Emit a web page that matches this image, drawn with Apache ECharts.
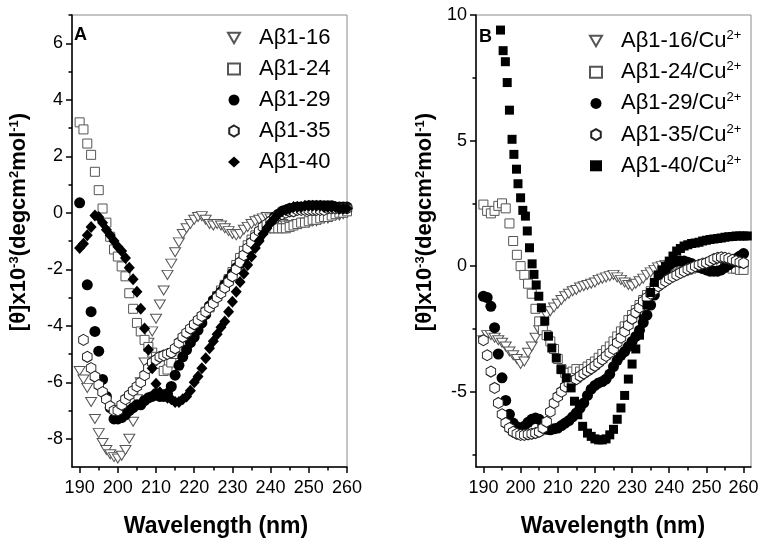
<!DOCTYPE html>
<html><head><meta charset="utf-8">
<script src="https://cdn.jsdelivr.net/npm/echarts@6/dist/echarts.min.js"></script>
<style>html,body{margin:0;padding:0;background:#fff}#c{width:765px;height:545px}</style>
</head><body><div id="c"></div>
<script>
// ---------- wavelengths (nm) ----------
const wl = [190,191,192,193,194,195,196,197,198,199,
  200,201,202,203,204,205,206,207,208,209,
  210,211,212,213,214,215,216,217,218,219,
  220,221,222,223,224,225,226,227,228,229,
  230,231,232,233,234,235,236,237,238,239,
  240,241,242,243,244,245,246,247,248,249,
  250,251,252,253,254,255,256,257,258,259,260];

// ---------- Panel A ----------
const a16 = [-5.6,-5.9,-6.2,-6.7,-7.3,-7.8,-8.15,-8.4,-8.55,-8.65,
  -8.7,-8.6,-8.4,-8.0,-7.4,-6.6,-6.0,-5.3,-4.6,-4.2,
  -3.75,-3.25,-2.75,-2.2,-1.8,-1.4,-1.05,-0.75,-0.55,-0.4,
  -0.25,-0.15,-0.12,-0.25,-0.4,-0.45,-0.4,-0.45,-0.55,-0.65,
  -0.75,-0.8,-0.75,-0.6,-0.5,-0.4,-0.3,-0.25,-0.2,-0.15,
  -0.2,-0.3,-0.35,-0.4,-0.45,-0.45,-0.45,-0.4,-0.4,-0.35,
  -0.35,-0.3,-0.3,-0.25,-0.2,-0.2,-0.15,-0.1,-0.1,-0.05,0.0];
const a24 = [3.2,2.95,2.45,2.05,1.45,0.8,0.15,-0.35,-0.85,-1.3,
  -1.55,-1.9,-2.25,-2.85,-3.4,-3.9,-4.2,-4.5,-4.75,-4.95,
  -5.1,-5.35,-5.6,-5.55,-5.3,-5.0,-4.8,-4.6,-4.4,-4.2,
  -4.0,-3.85,-3.7,-3.5,-3.35,-3.15,-2.95,-2.75,-2.55,-2.35,
  -2.1,-1.85,-1.6,-1.35,-1.15,-0.95,-0.8,-0.7,-0.6,-0.55,
  -0.55,-0.55,-0.55,-0.55,-0.55,-0.5,-0.45,-0.4,-0.35,-0.35,
  -0.3,-0.25,-0.25,-0.2,-0.15,-0.15,-0.1,-0.05,0.0,0.0,0.05];
const a29 = [0.35,null,-2.55,-3.5,-4.2,-4.9,-5.9,-6.5,-6.9,-7.3,
  -7.3,-7.25,-7.15,-7.0,-6.9,-6.8,-6.8,-6.65,-6.55,-6.5,
  -6.4,-6.5,-6.5,-6.4,-6.15,-5.75,-5.4,-5.1,-4.85,-4.6,
  -4.4,-4.15,-3.9,-3.6,-3.3,-3.1,-2.95,-2.8,-2.55,-2.35,
  -2.15,-1.95,-1.8,-1.6,-1.45,-1.25,-1.05,-0.85,-0.65,-0.45,
  -0.3,-0.15,-0.05,0.05,0.1,0.15,0.15,0.2,0.2,0.2,
  0.25,0.25,0.25,0.25,0.25,0.25,0.25,0.2,0.2,0.2,0.2];
const a35 = [null,-4.5,-5.1,-5.5,-5.8,-6.1,-6.35,-6.6,-6.85,-7.0,
  -7.0,-6.8,-6.6,-6.45,-6.3,-6.15,-6.0,-5.75,-5.5,-5.3,
  -5.2,-5.1,-5.05,-5.0,-4.95,-4.8,-4.6,-4.4,-4.25,-4.1,
  -3.95,-3.8,-3.65,-3.5,-3.35,-3.2,-3.0,-2.85,-2.65,-2.45,
  -2.25,-2.0,-1.75,-1.5,-1.25,-1.05,-0.85,-0.65,-0.5,-0.4,
  -0.3,-0.2,-0.1,-0.05,0.0,0.05,0.05,0.1,0.1,0.1,
  0.1,0.1,0.1,0.1,0.1,0.15,0.15,0.15,0.15,0.15,0.15];
const a40 = [-1.25,-1.1,-0.8,-0.5,-0.1,-0.15,-0.35,-0.6,-0.8,-1.0,
  -1.2,-1.35,-1.6,-1.95,-2.35,-2.8,-3.4,-4.1,-4.85,-5.5,
  -6.05,-6.35,-6.45,-6.55,-6.6,-6.7,-6.7,-6.6,-6.5,-6.3,
  -6.0,-5.8,-5.5,-5.15,-4.8,-4.55,-4.3,-4.05,-3.85,-3.5,
  -3.15,-2.8,-2.45,-2.15,-1.85,-1.55,-1.25,-1.0,-0.75,-0.55,
  -0.35,-0.2,-0.05,0.05,0.1,0.15,0.2,0.2,0.2,0.25,
  0.25,0.25,0.25,0.25,0.2,0.2,0.2,0.2,0.15,0.15,0.15];

// ---------- Panel B ----------
const b16 = [-2.95,-2.75,-2.75,-2.85,-2.95,-3.05,-3.2,-3.4,-3.55,-3.7,
  -3.9,-3.8,-3.45,-3.2,-2.85,-2.55,-2.25,-1.95,-1.8,-1.65,
  -1.5,-1.35,-1.2,-1.1,-1.0,-0.95,-0.85,-0.8,-0.75,-0.7,
  -0.65,-0.55,-0.5,-0.45,-0.4,-0.35,-0.45,-0.55,-0.65,-0.75,
  -0.8,-0.7,-0.6,-0.5,-0.35,-0.25,-0.15,-0.05,0.0,0.05,
  0.05,0.05,0.1,null,null,null,null,null,null,null,
  null,null,null,null,null,null,null,null,null,null,null];
const b24 = [2.45,2.2,2.1,2.2,2.4,2.5,2.3,1.7,1.0,0.45,
  0.0,-0.35,-0.7,-1.1,-1.7,-2.2,-2.55,-2.75,-3.0,-3.3,
  -3.7,-4.1,-4.25,-4.25,-4.2,-4.1,-4.2,-4.1,-4.0,-3.9,
  -3.8,-3.65,-3.5,-3.35,-3.2,-3.0,-2.8,-2.6,-2.4,-2.15,
  -1.95,-1.75,-1.55,-1.35,-1.15,-1.0,-0.85,-0.7,-0.6,-0.5,
  -0.4,-0.35,-0.3,-0.25,-0.2,-0.15,-0.1,-0.05,0.0,0.05,
  0.1,0.1,0.1,0.05,0.0,0.0,-0.05,-0.1,-0.1,-0.15,-0.15];
const b29 = [-1.2,-1.25,-1.6,-2.45,-3.5,-4.45,-5.35,-5.9,-6.25,-6.4,
  -6.45,-6.38,-6.22,-6.1,-6.05,-6.1,-6.35,-6.5,-6.52,-6.48,
  -6.45,-6.35,-6.25,-6.15,-6.0,-5.85,-5.65,-5.45,-5.15,-4.9,
  -4.75,-4.65,-4.6,-4.5,-4.3,-4.0,-3.75,-3.55,-3.4,-3.2,
  -3.0,-2.8,-2.55,-2.25,-1.95,-1.55,-1.15,-0.8,-0.45,-0.15,
  0.05,0.15,0.2,0.2,0.2,0.15,0.1,0.0,-0.05,-0.1,
  -0.15,-0.2,-0.2,-0.2,-0.15,-0.05,0.05,0.15,0.3,0.4,0.5];
const b35 = [-2.95,-3.55,-4.2,-4.85,-5.45,-5.9,-6.25,-6.45,-6.6,-6.68,
  -6.72,-6.72,-6.7,-6.68,-6.65,-6.6,-6.45,-6.2,-5.8,-5.45,
  -5.2,-5.0,-4.8,-4.65,-4.58,-4.5,-4.38,-4.28,-4.18,-4.08,
  -3.97,-3.85,-3.72,-3.58,-3.45,-3.3,-3.05,-2.85,-2.6,-2.35,
  -2.1,-1.85,-1.65,-1.4,-1.25,-1.1,-0.95,-0.8,-0.7,-0.6,
  -0.5,-0.42,-0.35,-0.27,-0.2,-0.12,-0.07,0.0,0.05,0.1,
  0.13,0.2,0.28,0.33,0.35,0.33,0.3,0.25,0.2,0.15,0.12];
const wl40 = [194.6,195.3,195.9,196.4,197,197.7,198.2,198.9,199.3,200,
  200.6,201.3,201.8,202.4,203.1,203.6,204.2,204.9,205.6,206.5,
  207.5,208.4,209.6,210.9,212.3,213.6,214.5,215.4,216.7,218,
  219,220,221,222,223,224,225,226,227,228,
  229,230,231,232,233,234,235,236,237,238,
  239,240,241,242,243,244,245,246,247,248,
  249,250,251,252,253,254,255,256,257,258,259,260,261];
const b40 = [9.4,8.58,8.14,7.31,6.21,5.05,4.45,3.86,3.28,2.72,
  2.22,1.99,1.4,0.73,0.09,-0.33,-0.75,-1.2,-1.66,-2.19,
  -2.79,-3.26,-3.66,-4.12,-4.45,-4.85,-5.38,-5.92,-6.38,-6.65,
  -6.78,-6.88,-6.92,-6.92,-6.88,-6.72,-6.5,-6.1,-5.65,-5.15,
  -4.5,-3.9,-3.3,-2.75,-2.1,-1.55,-1.05,-0.65,-0.35,-0.15,
  0.0,0.2,0.4,0.6,0.7,0.8,0.85,0.9,0.92,0.95,
  1.0,1.03,1.06,1.08,1.1,1.12,1.15,1.17,1.18,1.2,1.2,1.2,1.2];

// ---------- ticks ----------
const xMajor = [190,200,210,220,230,240,250,260];
const xMinor = [195,205,215,225,235,245,255];
const yMajorA = [-8,-6,-4,-2,0,2,4,6];
const yMinorA = [-7,-5,-3,-1,1,3,5,7];
const yMajorB = [-5,0,5,10];
const yMinorB = [-7.5,-2.5,2.5,7.5];

const namesA = ['Aβ1-16','Aβ1-24','Aβ1-29','Aβ1-35','Aβ1-40'];
const namesB = ['Aβ1-16/Cu2+','Aβ1-24/Cu2+','Aβ1-29/Cu2+','Aβ1-35/Cu2+','Aβ1-40/Cu2+'];

const FONT = '"Liberation Sans", Arial, sans-serif';
function pairs(xs, ys){ const out=[]; for(let i=0;i<ys.length;i++){ if(ys[i]!=null) out.push([xs[i], ys[i]]); } return out; }

const TRI = 'path://M0,0 L10,0 L5,8.66 Z';
const HEX = 'path://M0,-1 L0.866,-0.5 L0.866,0.5 L0,1 L-0.866,0.5 L-0.866,-0.5 Z';
const styles = [
  {symbol: TRI, symbolSize:[11,9], itemStyle:{color:'#fff', borderColor:'#555', borderWidth:1, opacity:1}},
  {symbol: 'rect', symbolSize:9, itemStyle:{color:'#fff', borderColor:'#555', borderWidth:1, opacity:1}},
  {symbol: 'circle', symbolSize:11, itemStyle:{color:'#000', borderColor:'#000', borderWidth:0, opacity:1}},
  {symbol: HEX, symbolSize:[9.5,11], itemStyle:{color:'#fff', borderColor:'#222', borderWidth:1, opacity:1}},
  {symbol: 'diamond', symbolSize:[11,12], itemStyle:{color:'#000', borderColor:'#000', borderWidth:0, opacity:1}}
];
const stylesB = styles.slice(0,4).concat([{symbol:'rect', symbolSize:9, itemStyle:{color:'#000', borderColor:'#000', borderWidth:0, opacity:1}}]);

function xAxes(grid, max){
  return [
    {gridIndex:grid, type:'value', min:188, max:max, position:'bottom',
     axisLine:{show:true, onZero:false, lineStyle:{color:'#000', width:1.5}},
     axisTick:{show:true, customValues:xMajor, length:6, lineStyle:{color:'#000', width:1.5}},
     axisLabel:{show:true, customValues:xMajor, fontSize:18, color:'#000', fontFamily:FONT, margin:12},
     splitLine:{show:false}},
    {gridIndex:grid, type:'value', min:188, max:max, position:'bottom',
     axisLine:{show:false, onZero:false},
     axisTick:{show:true, customValues:xMinor, length:3.5, lineStyle:{color:'#000', width:1.5}},
     axisLabel:{show:false}, splitLine:{show:false}}
  ];
}
function yAxes(grid, min, max, major, minor){
  return [
    {gridIndex:grid, type:'value', min:min, max:max, position:'left',
     axisLine:{show:true, onZero:false, lineStyle:{color:'#000', width:1.5}},
     axisTick:{show:true, customValues:major, length:6, lineStyle:{color:'#000', width:1.5}},
     axisLabel:{show:true, customValues:major, fontSize:18, color:'#000', fontFamily:FONT, margin:9},
     splitLine:{show:false}},
    {gridIndex:grid, type:'value', min:min, max:max, position:'left',
     axisLine:{show:false, onZero:false},
     axisTick:{show:true, customValues:minor, length:3.5, lineStyle:{color:'#000', width:1.5}},
     axisLabel:{show:false}, splitLine:{show:false}}
  ];
}

const seriesA = [a16,a24,a29,a35,a40].map((ys,i)=>Object.assign({
  type:'scatter', name:namesA[i], xAxisIndex:0, yAxisIndex:0, data:pairs(wl, ys), animation:false
}, styles[i]));
const seriesB = [b16,b24,b29,b35].map((ys,i)=>Object.assign({
  type:'scatter', name:namesB[i], xAxisIndex:2, yAxisIndex:2, data:pairs(wl, ys), animation:false
}, stylesB[i]));
seriesB.push(Object.assign({type:'scatter', name:namesB[4], xAxisIndex:2, yAxisIndex:2, data:pairs(wl40, b40), animation:false}, stylesB[4]));

const yTitle = '[θ]x10{s|-3}(degcm{s|2}mol{s|-1})';
const titleRich = {s:{font:'bold 13px ' + FONT, verticalAlign:'top', fill:'#000'}};

const chart = echarts.init(document.getElementById('c'), null, {renderer:'canvas'});
chart.setOption({
  animation:false,
  backgroundColor:'#fff',
  grid:[
    {left:72, top:15, width:275, height:452, show:true, borderColor:'#8a8a8a', borderWidth:1, backgroundColor:'transparent'},
    {left:476, top:15, width:275, height:452, show:true, borderColor:'#8a8a8a', borderWidth:1, backgroundColor:'transparent'}
  ],
  xAxis: xAxes(0, 260).concat(xAxes(1, 262)),
  yAxis: yAxes(0, -9, 7, yMajorA, yMinorA).concat(yAxes(1, -8, 10, yMajorB, yMinorB)),
  legend:[
    {data:namesA, orient:'vertical', left:222, top:22, itemWidth:12, itemHeight:11, itemGap:9,
     textStyle:{fontSize:22, fontFamily:FONT, color:'#000', lineHeight:22, padding:[0,0,0,14]}},
    {data:namesB, orient:'vertical', left:584, top:24, itemWidth:12, itemHeight:11, itemGap:7.2,
     formatter: n => n.replace('2+', '{s|2+}'),
     textStyle:{fontSize:22, fontFamily:FONT, color:'#000', lineHeight:24, padding:[0,0,0,14],
       rich:{s:{fontSize:13, fontFamily:FONT, color:'#000', verticalAlign:'top', lineHeight:24}}}}
  ],
  graphic:[
    {type:'text', x:74, y:35, style:{text:'A', font:'bold 18px ' + FONT, fill:'#000', verticalAlign:'middle'}},
    {type:'text', x:479, y:37, style:{text:'B', font:'bold 18px ' + FONT, fill:'#000', verticalAlign:'middle'}},
    {type:'text', x:216, y:527, style:{text:'Wavelength (nm)', font:'bold 23px ' + FONT, fill:'#000', align:'center', verticalAlign:'middle'}},
    {type:'text', x:613, y:527, style:{text:'Wavelength (nm)', font:'bold 23px ' + FONT, fill:'#000', align:'center', verticalAlign:'middle'}},
    {type:'text', x:18.5, y:222, rotation:Math.PI/2, style:{text:yTitle, font:'bold 22px ' + FONT, fill:'#000', align:'center', verticalAlign:'middle', rich:titleRich}},
    {type:'text', x:425, y:222, rotation:Math.PI/2, style:{text:yTitle, font:'bold 22px ' + FONT, fill:'#000', align:'center', verticalAlign:'middle', rich:titleRich}}
  ],
  series: seriesA.concat(seriesB)
});
</script></body></html>
